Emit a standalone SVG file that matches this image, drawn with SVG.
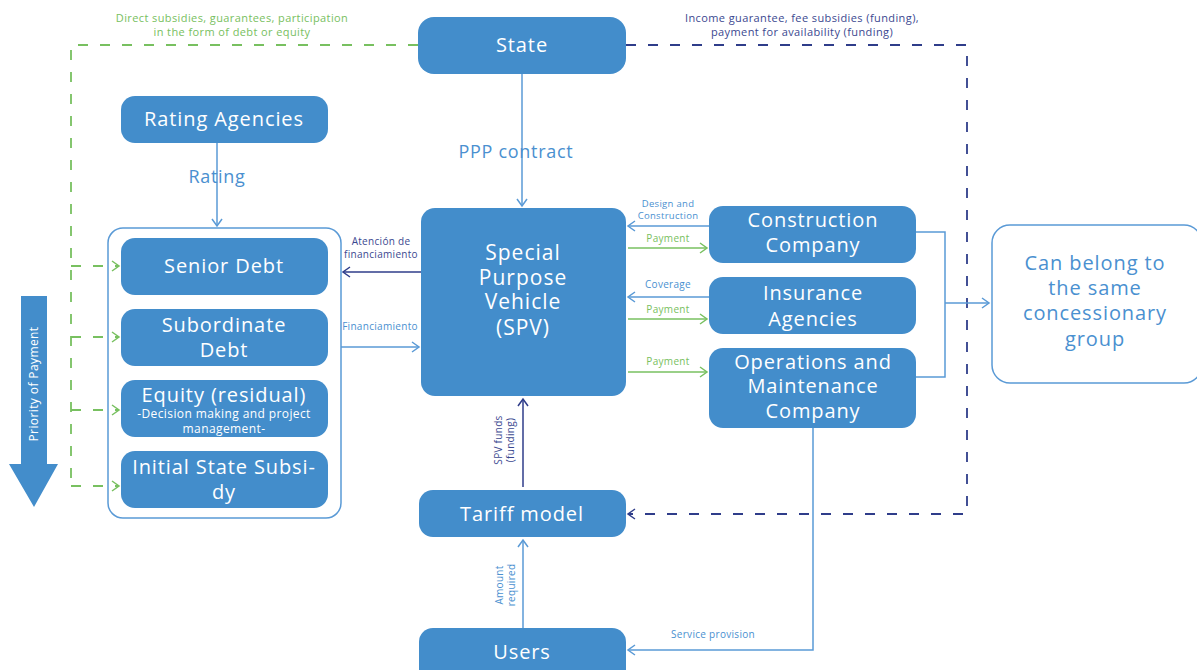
<svg xmlns="http://www.w3.org/2000/svg" width="1197" height="670" viewBox="0 0 1197 670">
<style>
.box{fill:#438dcb;}
.bt{fill:#ffffff;font-family:"Open Sans","Liberation Sans",sans-serif;font-size:20px;letter-spacing:0.9px;text-anchor:middle;}
.lbl{font-family:"Open Sans","Liberation Sans",sans-serif;text-anchor:middle;}
.s9{font-size:9.5px;letter-spacing:0.3px;}
.s10{font-size:10px;letter-spacing:0.3px;}
.s11{font-size:11px;letter-spacing:0.4px;}
.s12{font-size:12px;letter-spacing:0.4px;}
.s18{font-size:18px;letter-spacing:0.7px;}
.s20{font-size:20px;letter-spacing:0.9px;}
.s21{font-size:21px;letter-spacing:1px;}
.lb{fill:#4a90d0;}
.gr{fill:#78c060;}
.nv{fill:#3b4890;}
.ln{fill:none;stroke:#5a9ad6;stroke-width:1.5;}
.lg{fill:none;stroke:#78c060;stroke-width:1.5;}
.ldn{fill:none;stroke:#2f3d8a;stroke-width:1.5;}
.dg{fill:none;stroke:#78c060;stroke-width:1.8;stroke-dasharray:10 12;}
.dn{fill:none;stroke:#2f3d8a;stroke-width:1.8;stroke-dasharray:10 12;}
</style>
<defs>
<marker id="ab" markerWidth="10" markerHeight="12" refX="8" refY="6" orient="auto" markerUnits="userSpaceOnUse"><path d="M1,1 L8,6 L1,11" fill="none" stroke="#5a9ad6" stroke-width="1.5"/></marker>
<marker id="ag" markerWidth="10" markerHeight="12" refX="8" refY="6" orient="auto" markerUnits="userSpaceOnUse"><path d="M1,1 L8,6 L1,11" fill="none" stroke="#78c060" stroke-width="1.5"/></marker>
<marker id="an" markerWidth="10" markerHeight="12" refX="8" refY="6" orient="auto" markerUnits="userSpaceOnUse"><path d="M1,1 L8,6 L1,11" fill="none" stroke="#2f3d8a" stroke-width="1.5"/></marker>
</defs>

<g id="connectors">
  <path class="dg" d="M418,45 H71 V486"/>
  <path class="dg" d="M71,266 H119" marker-end="url(#ag)"/>
  <path class="dg" d="M71,337 H119" marker-end="url(#ag)"/>
  <path class="dg" d="M71,410 H119" marker-end="url(#ag)"/>
  <path class="dg" d="M71,486 H119" marker-end="url(#ag)"/>
  <path class="dn" d="M626,45 H967 V514 H628" marker-end="url(#an)"/>
  <path class="ln" d="M522,74 V206" marker-end="url(#ab)"/>
  <path class="ln" d="M217,143 V226" marker-end="url(#ab)"/>
  <path class="ldn" d="M421,272 H343" marker-end="url(#an)"/>
  <path class="ln" d="M341,347 H419" marker-end="url(#ab)"/>
  <path class="ln" d="M709,226 H628" marker-end="url(#ab)"/>
  <path class="lg" d="M628,248 H707" marker-end="url(#ag)"/>
  <path class="ln" d="M709,297 H628" marker-end="url(#ab)"/>
  <path class="lg" d="M628,319 H707" marker-end="url(#ag)"/>
  <path class="lg" d="M628,372 H707" marker-end="url(#ag)"/>
  <path class="ln" d="M916,232 H945 V377 H916"/>
  <path class="ln" d="M945,303 H989" marker-end="url(#ab)"/>
  <path class="ldn" d="M523,487 V399" marker-end="url(#an)"/>
  <path class="ln" d="M523,628 V540" marker-end="url(#ab)"/>
  <path class="ln" d="M813,428 V650 H628" marker-end="url(#ab)"/>
</g>

<g id="labels">
  <text class="lbl gr s11" x="232" y="22">Direct subsidies, guarantees, participation</text>
  <text class="lbl gr s11" x="232" y="36">in the form of debt or equity</text>
  <text class="lbl nv s11" x="802" y="22">Income guarantee, fee subsidies (funding),</text>
  <text class="lbl nv s11" x="802" y="36">payment for availability (funding)</text>
  <text class="lbl lb s18" x="516" y="158">PPP contract</text>
  <text class="lbl lb s18" x="217" y="183">Rating</text>
  <text class="lbl nv s10" x="381" y="245">Atención de</text>
  <text class="lbl nv s10" x="381" y="258">financiamiento</text>
  <text class="lbl lb s10" x="380" y="330">Financiamiento</text>
  <text class="lbl lb s9" x="668" y="207">Design and</text>
  <text class="lbl lb s9" x="668" y="219">Construction</text>
  <text class="lbl gr s10" x="668" y="242">Payment</text>
  <text class="lbl lb s10" x="668" y="288">Coverage</text>
  <text class="lbl gr s10" x="668" y="313">Payment</text>
  <text class="lbl gr s10" x="668" y="365">Payment</text>
  <text class="lbl nv s10" transform="translate(502,440) rotate(-90)">SPV funds</text>
  <text class="lbl nv s10" transform="translate(514,440) rotate(-90)">(funding)</text>
  <text class="lbl lb s10" transform="translate(503,585) rotate(-90)">Amount</text>
  <text class="lbl lb s10" transform="translate(515,585) rotate(-90)">required</text>
  <text class="lbl lb s10" x="713" y="638">Service provision</text>
</g>

<g id="priority">
  <path d="M21,296 H47 V464 H58 L34,507 L9,464 H21 Z" fill="#438dcb"/>
  <text class="lbl s12" fill="#ffffff" transform="translate(38,384) rotate(-90)">Priority of Payment</text>
</g>

<g id="container">
  <rect x="108" y="228" width="233" height="290" rx="15" fill="none" stroke="#5a9ad6" stroke-width="1.5"/>
</g>

<g id="state">
  <rect class="box" x="418" y="17" width="208" height="57" rx="16"/>
  <text class="bt" x="522" y="52">State</text>
</g>
<g id="rating-agencies">
  <rect class="box" x="121" y="96" width="207" height="47" rx="14"/>
  <text class="bt" x="224" y="126">Rating Agencies</text>
</g>
<g id="senior-debt">
  <rect class="box" x="121" y="238" width="207" height="57" rx="14"/>
  <text class="bt" x="224" y="273">Senior Debt</text>
</g>
<g id="subordinate-debt">
  <rect class="box" x="121" y="309" width="207" height="57" rx="14"/>
  <text class="bt" x="224" y="332">Subordinate</text>
  <text class="bt" x="224" y="357">Debt</text>
</g>
<g id="equity">
  <rect class="box" x="121" y="380" width="207" height="57" rx="14"/>
  <text class="bt" x="224" y="402">Equity (residual)</text>
  <text class="bt s12" x="224" y="418">-Decision making and project</text>
  <text class="bt s12" x="224" y="433">management-</text>
</g>
<g id="initial-state-subsidy">
  <rect class="box" x="121" y="451" width="207" height="57" rx="14"/>
  <text class="bt" x="224" y="474">Initial State Subsi-</text>
  <text class="bt" x="224" y="499">dy</text>
</g>
<g id="spv">
  <rect class="box" x="421" y="208" width="205" height="188" rx="14"/>
  <text class="bt s21" x="523" y="260">Special</text>
  <text class="bt s21" x="523" y="285">Purpose</text>
  <text class="bt s21" x="523" y="309">Vehicle</text>
  <text class="bt s21" x="523" y="335">(SPV)</text>
</g>
<g id="construction-company">
  <rect class="box" x="709" y="206" width="207" height="57" rx="14"/>
  <text class="bt" x="813" y="227">Construction</text>
  <text class="bt" x="813" y="252">Company</text>
</g>
<g id="insurance-agencies">
  <rect class="box" x="709" y="277" width="207" height="57" rx="14"/>
  <text class="bt" x="813" y="300">Insurance</text>
  <text class="bt" x="813" y="326">Agencies</text>
</g>
<g id="om-company">
  <rect class="box" x="709" y="348" width="207" height="80" rx="14"/>
  <text class="bt" x="813" y="369">Operations and</text>
  <text class="bt" x="813" y="393">Maintenance</text>
  <text class="bt" x="813" y="418">Company</text>
</g>
<g id="concessionary-group">
  <rect x="992" y="225" width="210" height="158" rx="18" fill="#ffffff" stroke="#5a9ad6" stroke-width="1.5"/>
  <text class="lbl lb s20" x="1095" y="270">Can belong to</text>
  <text class="lbl lb s20" x="1095" y="295">the same</text>
  <text class="lbl lb s20" x="1095" y="320">concessionary</text>
  <text class="lbl lb s20" x="1095" y="346">group</text>
</g>
<g id="tariff-model">
  <rect class="box" x="419" y="490" width="207" height="47" rx="14"/>
  <text class="bt" x="522" y="521">Tariff model</text>
</g>
<g id="users">
  <rect class="box" x="419" y="628" width="207" height="60" rx="14"/>
  <text class="bt" x="522" y="659">Users</text>
</g>
</svg>
